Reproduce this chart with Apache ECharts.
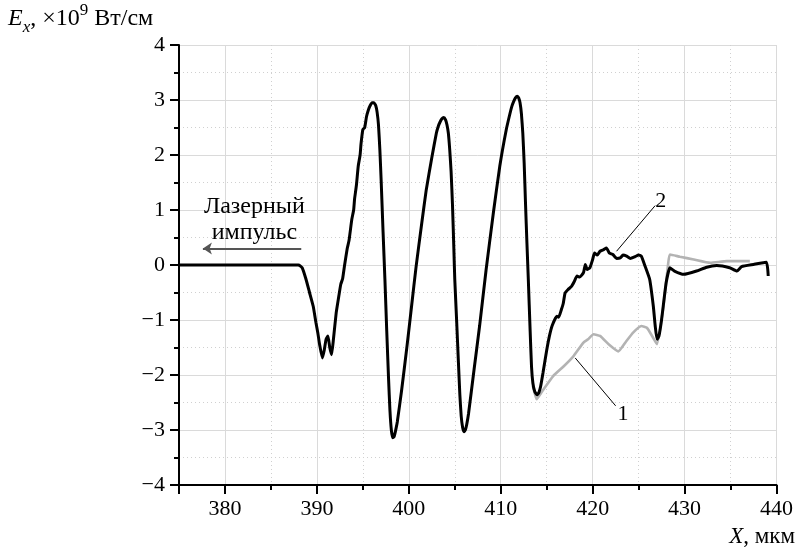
<!DOCTYPE html>
<html><head><meta charset="utf-8">
<script src="https://cdn.jsdelivr.net/npm/echarts@6/dist/echarts.min.js"></script>
<style>html,body{margin:0;padding:0;background:#fff}#c{width:796px;height:554px}</style>
</head><body><div id="c"></div>
<script>
// Axis ranges
const xRange = [375, 440];
const yRange = [-4, 4];
const yInterval = 1;

// Curve 2 (black): [X (мкм), Ex (×10^9 Вт/см)]
const curve2 = [
[375,0],[388.0,0],[388.4,-0.05],[388.8,-0.25],[389.2,-0.5],[389.6,-0.75],[389.9,-1.05],[390.1,-1.23],[390.3,-1.45],[390.6,-1.69],[390.8,-1.55],[391.0,-1.35],[391.2,-1.29],[391.4,-1.5],[391.6,-1.63],[391.8,-1.35],[392.1,-0.87],[392.4,-0.55],[392.6,-0.35],[392.8,-0.25],[393.0,-0.02],[393.3,0.3],[393.5,0.45],[393.8,0.83],[394.0,1.0],[394.1,1.2],[394.3,1.45],[394.5,1.8],[394.7,2.0],[394.8,2.2],[395.0,2.46],[395.2,2.5],[395.4,2.7],[395.6,2.82],[395.8,2.9],[396.0,2.95],[396.2,2.95],[396.4,2.9],[396.55,2.78],[396.7,2.55],[396.85,2.1],[397.0,1.5],[397.2,0.6],[397.4,-0.26],[397.6,-1.2],[397.8,-2.08],[397.95,-2.65],[398.1,-3.0],[398.25,-3.14],[398.4,-3.12],[398.55,-3.02],[398.75,-2.85],[399.2,-2.3],[399.8,-1.48],[400.3,-0.75],[400.8,-0.02],[401.4,0.75],[401.9,1.37],[402.5,1.95],[403.0,2.40],[403.2,2.52],[403.4,2.6],[403.6,2.66],[403.8,2.68],[404.0,2.64],[404.15,2.55],[404.3,2.4],[404.45,2.1],[404.6,1.7],[404.75,1.1],[404.9,0.3],[405.0,-0.26],[405.2,-1.0],[405.4,-1.78],[405.55,-2.35],[405.7,-2.75],[405.85,-2.95],[406.0,-3.03],[406.15,-3.0],[406.3,-2.9],[406.5,-2.7],[407.1,-1.9],[407.7,-1.11],[408.4,-0.1],[409.2,0.95],[409.9,1.8],[410.6,2.46],[411.0,2.75],[411.2,2.88],[411.4,2.97],[411.6,3.04],[411.8,3.07],[411.95,3.04],[412.1,2.95],[412.25,2.75],[412.4,2.4],[412.55,1.85],[412.7,1.1],[412.85,0.4],[413.0,-0.26],[413.2,-1.2],[413.35,-1.85],[413.5,-2.15],[413.7,-2.3],[413.95,-2.36],[414.15,-2.32],[414.35,-2.2],[414.6,-1.96],[415.0,-1.55],[415.3,-1.29],[415.6,-1.1],[416.1,-0.93],[416.3,-0.95],[416.6,-0.81],[416.8,-0.7],[417.0,-0.51],[417.3,-0.45],[417.7,-0.39],[418.0,-0.3],[418.3,-0.2],[418.6,-0.22],[419.0,-0.14],[419.2,0.01],[419.4,-0.08],[419.7,-0.05],[420.0,0.1],[420.2,0.22],[420.5,0.18],[420.8,0.25],[421.2,0.28],[421.5,0.31],[421.8,0.22],[422.2,0.19],[422.6,0.12],[423.0,0.13],[423.3,0.18],[423.7,0.16],[424.1,0.12],[424.6,0.15],[425.0,0.18],[425.3,0.16],[425.7,-0.02],[426.2,-0.26],[426.6,-0.75],[426.8,-1.1],[427.0,-1.35],[427.2,-1.3],[427.5,-0.99],[428.0,-0.32],[428.4,-0.05],[428.9,-0.11],[429.9,-0.17],[431.3,-0.11],[432.4,-0.04],[433.5,-0.01],[434.9,-0.05],[435.7,-0.11],[436.2,-0.03],[437.5,0.01],[438.9,0.05],[439.1,-0.2]
];

// Curve 1 (grey), visible part after X ≈ 413.5
const curve1 = [
[413.5,-2.2],[413.9,-2.44],[414.5,-2.3],[415.7,-2.02],[416.8,-1.85],[417.9,-1.66],[419.0,-1.41],[419.5,-1.35],[420.1,-1.26],[420.8,-1.29],[421.8,-1.45],[422.8,-1.57],[423.6,-1.4],[424.4,-1.23],[425.3,-1.11],[425.9,-1.14],[426.5,-1.3],[427.0,-1.44],[427.7,-0.75],[428.2,0.0],[428.4,0.19],[429.5,0.15],[431.0,0.1],[432.8,0.04],[434.6,0.07],[437.1,0.07]
];

// Annotations (data coordinates)
const laserText = ['Лазерный', 'импульс'];
const laserTextAt = [383.2, 0.83];
const laserArrow = [[388.3, 0.30], [377.6, 0.30]];
const label2 = {text: '2', at: [427.4, 1.16], leader: [[426.8, 1.08], [422.6, 0.25]]};
const label1 = {text: '1', at: [423.3, -2.72], leader: [[422.5, -2.56], [418.1, -1.69]]};

const FONT = "'Liberation Serif','Times New Roman',serif";
const chart = echarts.init(document.getElementById('c'), null, {renderer: 'canvas'});

const option = {
  animation: false,
  backgroundColor: '#fff',
  grid: {left: 179, right: 19, top: 45, bottom: 69},
  xAxis: {
    type: 'value', min: xRange[0], max: xRange[1],
    axisLine: {show: true, onZero: false, lineStyle: {color: '#000', width: 2}},
    axisTick: {show: true, length: 9, lineStyle: {color: '#000', width: 2}},
    minorTick: {show: true, splitNumber: 2, length: 5, lineStyle: {color: '#000', width: 2}},
    axisLabel: {fontFamily: FONT, fontSize: 22, color: '#000', margin: 13, showMinLabel: false},
    splitLine: {show: true, lineStyle: {color: '#dadada', width: 1}},
    minorSplitLine: {show: true, lineStyle: {color: '#d0d0d0', width: 1, type: [1, 3]}}
  },
  yAxis: {
    type: 'value', min: yRange[0], max: yRange[1], interval: yInterval,
    axisLine: {show: true, onZero: false, lineStyle: {color: '#000', width: 2}},
    axisTick: {show: true, length: 9, lineStyle: {color: '#000', width: 2}},
    minorTick: {show: true, splitNumber: 2, length: 5, lineStyle: {color: '#000', width: 2}},
    axisLabel: {fontFamily: FONT, fontSize: 22, color: '#000', margin: 14,
      formatter: v => (v < 0 ? '\u2212' + Math.abs(v) : String(v))},
    splitLine: {show: true, lineStyle: {color: '#dadada', width: 1}},
    minorSplitLine: {show: true, lineStyle: {color: '#d0d0d0', width: 1, type: [1, 3]}}
  },
  series: [
    {
      name: '1', type: 'line', data: curve1, showSymbol: false, symbol: 'none', smooth: 0.15,
      lineStyle: {color: '#b3b3b3', width: 2.6}, z: 2,
      markLine: {
        silent: true, symbol: 'none', animation: false,
        lineStyle: {color: '#000', width: 1, type: 'solid'}, label: {show: false},
        data: [
          [{coord: label1.leader[0]}, {coord: label1.leader[1]}],
          [{coord: label2.leader[0]}, {coord: label2.leader[1]}]
        ]
      }
    },
    {
      name: '2', type: 'line', data: curve2, showSymbol: false, symbol: 'none', smooth: 0.15,
      lineStyle: {color: '#000', width: 3}, z: 3,
      markLine: {
        silent: true, symbol: ['none', 'arrow'], symbolSize: [9, 9], animation: false,
        lineStyle: {color: '#555', width: 2, type: 'solid'}, label: {show: false},
        data: [[{coord: laserArrow[0]}, {coord: laserArrow[1]}]]
      }
    }
  ]
};
chart.setOption(option);

const px = p => chart.convertToPixel({gridIndex: 0}, p);
const lp = px(laserTextAt), p1 = px(label1.at), p2 = px(label2.at);
chart.setOption({
  graphic: [
    {type: 'text', left: 8, top: 2, z: 10,
      style: {
        text: '{e|E}{s|x}{n|, ×10}{p|9}{n| Вт/см}',
        fill: '#000',
        rich: {
          e: {fontFamily: FONT, fontSize: 24, fontStyle: 'italic', lineHeight: 34},
          s: {fontFamily: FONT, fontSize: 17, fontStyle: 'italic', lineHeight: 15, verticalAlign: 'bottom'},
          n: {fontFamily: FONT, fontSize: 24, lineHeight: 34},
          p: {fontFamily: FONT, fontSize: 17, lineHeight: 18, verticalAlign: 'top'}
        }
      }},
    {type: 'text', right: 1, top: 525, z: 10,
      style: {
        text: '{i|X}{n|, мкм}', fill: '#000',
        rich: {
          i: {fontFamily: FONT, fontSize: 23, fontStyle: 'italic'},
          n: {fontFamily: FONT, fontSize: 23}
        }
      }},
    {type: 'text', x: lp[0], y: lp[1], z: 10,
      style: {text: laserText.join('\n'), fontFamily: FONT, fontSize: 24, lineHeight: 26,
        fill: '#000', align: 'center', verticalAlign: 'middle'}},
    {type: 'text', x: p1[0], y: p1[1], z: 10,
      style: {text: label1.text, fontFamily: FONT, fontSize: 22, fill: '#000', align: 'center', verticalAlign: 'middle'}},
    {type: 'text', x: p2[0], y: p2[1], z: 10,
      style: {text: label2.text, fontFamily: FONT, fontSize: 22, fill: '#000', align: 'center', verticalAlign: 'middle'}}
  ]
});
</script></body></html>
